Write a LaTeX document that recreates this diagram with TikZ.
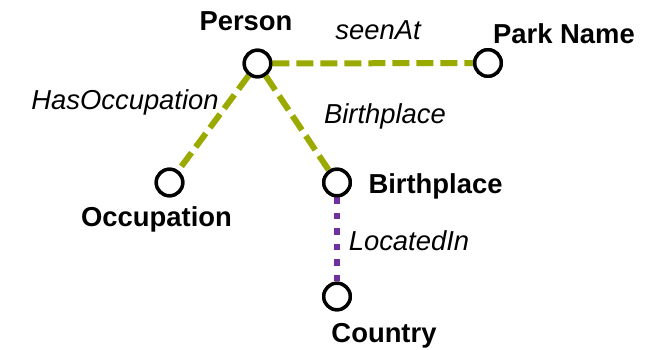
\documentclass[tikz,border=0pt]{standalone}
\usepackage{fontspec}
\setmainfont{Liberation Sans}
\begin{document}
\begin{tikzpicture}[x=1pt,y=-1pt,
  vertex/.style={circle,draw=black,line width=3.4pt,minimum size=26.5pt,inner sep=0pt,fill=white},
  nodelabel/.style={anchor=base,inner sep=0pt,font=\fontsize{27.4}{31}\selectfont\bfseries},
  edgelabel/.style={anchor=base,inner sep=0pt,font=\fontsize{27.4}{31}\selectfont\itshape},
  relgreen/.style={draw=olivegreen,line width=6pt,dash pattern=on 17pt off 7pt},
  relpurple/.style={draw=violetline,line width=6.5pt,dash pattern=on 6.5pt off 9pt}]
\definecolor{olivegreen}{HTML}{9AAA00}
\definecolor{violetline}{HTML}{7030A0}
\useasboundingbox (0,0) rectangle (657,350);

% vertices
\node[vertex] (person) at (257.5,63.5) {};
\node[vertex] (park) at (488,63) {};
\node[vertex] (occ) at (169.5,182.5) {};
\node[vertex] (birth) at (337,182.5) {};
\node[vertex] (country) at (337,296.5) {};

% relations
\draw[relgreen] (person) -- (park);
\draw[relgreen] (person) -- (occ);
\draw[relgreen] (person) -- (birth);
\draw[relpurple] (birth) -- (country);

% redraw vertex outlines on top of the lines
\node[vertex] at (person) {};
\node[vertex] at (park) {};
\node[vertex] at (occ) {};
\node[vertex] at (birth) {};
\node[vertex] at (country) {};

% vertex names
\node[nodelabel] (tperson) at (246,31) {Person};
\node[nodelabel] (tpark) at (564,43.3) {Park Name};
\node[nodelabel] (tocc) at (156.5,226.5) {Occupation};
\node[nodelabel] (tbirth) at (435.5,193.3) {Birthplace};
\node[nodelabel] (tcountry) at (384,342) {Country};

% relation names
\node[edgelabel] (lseen) at (378,40) {seenAt};
\node[edgelabel] (lhas) at (125,109.3) {HasOccupation};
\node[edgelabel] (lbirth) at (385,123.3) {Birthplace};
\node[edgelabel] (lloc) at (409,250.7) {LocatedIn};
\end{tikzpicture}
\end{document}
